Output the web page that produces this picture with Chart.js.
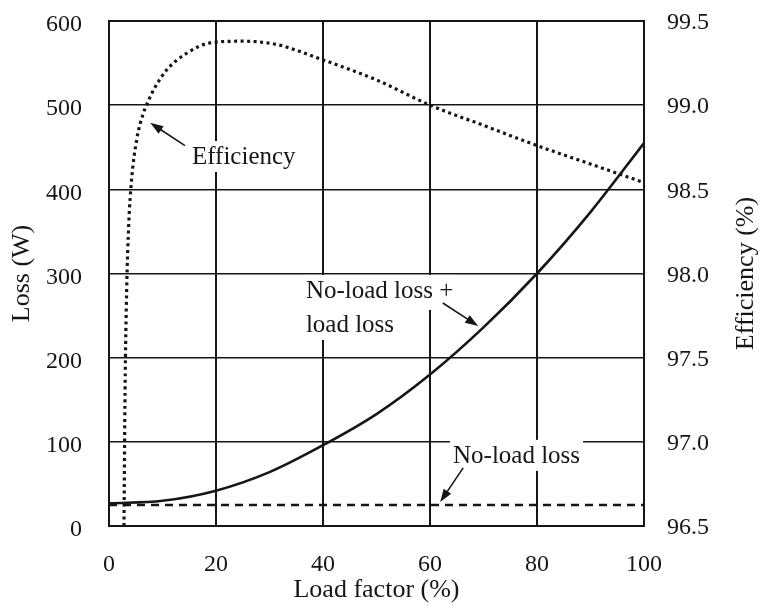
<!DOCTYPE html>
<html>
<head>
<meta charset="utf-8">
<script src="https://cdn.jsdelivr.net/npm/chart.js@4/dist/chart.umd.min.js"></script>
<style>
  html, body { margin: 0; padding: 0; background: #fff; }
  canvas { display: block; }
</style>
</head>
<body>
<canvas id="c" width="760" height="612"></canvas>
<script>
// ---- data ----
const xTicks = [0, 20, 40, 60, 80, 100];
const lossTicks = [0, 100, 200, 300, 400, 500, 600];
const effTicks = [96.5, 97.0, 97.5, 98.0, 98.5, 99.0, 99.5];

const totalLossX = [0, 10, 20, 30, 40, 50, 60, 70, 80, 90, 100];
const totalLossY = [27, 30, 42, 64, 96, 133, 180, 236, 300, 373, 455];

const noLoadX = [0, 100];
const noLoadY = [25, 25];

const effX = [2.8, 3.0, 3.3, 3.7, 4.2, 5.2, 6.4, 7.0, 8.5, 10.8, 14.6, 18.9, 25, 31.4, 39, 50, 60, 70, 80, 90, 100];
const effY = [96.5, 97.3, 97.9, 98.3, 98.55, 98.8, 98.95, 99.0, 99.1, 99.21, 99.31, 99.37, 99.38, 99.36, 99.28, 99.15, 99.0, 98.88, 98.76, 98.65, 98.54];

// annotation labels (anchored in data units of x / loss axis)
const labelTexts = [['Efficiency'], ['No-load loss +', 'load loss'], ['No-load loss']];
const labelAt = [[15.5, 430], [36.8, 271], [64.3, 75]];
const arrowFrom = [[14.2, 452], [62.4, 265], [66.2, 69]];
const arrowTo = [[7.7, 479], [69, 237.5], [61.9, 28.5]];

const pts = (xs, ys) => xs.map((x, i) => ({ x, y: ys[i] }));

const INK = '#161616';
const SERIF = '"Liberation Serif", "Times New Roman", serif';
const LINE_GAP = 34;

function arrow(ctx, x1, y1, x2, y2) {
  const ang = Math.atan2(y2 - y1, x2 - x1);
  const L = 13, W = 4.5;
  ctx.beginPath();
  ctx.moveTo(x1, y1);
  ctx.lineTo(x2 - Math.cos(ang) * L * 0.8, y2 - Math.sin(ang) * L * 0.8);
  ctx.lineWidth = 1.6;
  ctx.strokeStyle = INK;
  ctx.stroke();
  ctx.beginPath();
  ctx.moveTo(x2, y2);
  ctx.lineTo(x2 - Math.cos(ang) * L - Math.sin(ang) * W, y2 - Math.sin(ang) * L + Math.cos(ang) * W);
  ctx.lineTo(x2 - Math.cos(ang) * L + Math.sin(ang) * W, y2 - Math.sin(ang) * L - Math.cos(ang) * W);
  ctx.closePath();
  ctx.fillStyle = INK;
  ctx.fill();
}

const annotPlugin = {
  id: 'annot',
  beforeDatasetsDraw(chart) {
    const { ctx, scales } = chart;
    ctx.save();
    ctx.font = '25px ' + SERIF;
    labelTexts.forEach((lines, k) => {
      const px = scales.x.getPixelForValue(labelAt[k][0]);
      const py = scales.y.getPixelForValue(labelAt[k][1]);
      lines.forEach((t, j) => {
        const w = ctx.measureText(t).width;
        const by = py + j * LINE_GAP;
        ctx.fillStyle = '#fff';
        ctx.fillRect(px - 3, by - 23, w + 6, j < lines.length - 1 ? LINE_GAP + 1 : 31);
      });
    });
    ctx.restore();
  },
  afterDatasetsDraw(chart) {
    const { ctx, scales } = chart;
    ctx.save();
    ctx.font = '25px ' + SERIF;
    ctx.fillStyle = INK;
    ctx.textBaseline = 'alphabetic';
    ctx.textAlign = 'left';
    labelTexts.forEach((lines, k) => {
      const px = scales.x.getPixelForValue(labelAt[k][0]);
      const py = scales.y.getPixelForValue(labelAt[k][1]);
      lines.forEach((t, j) => ctx.fillText(t, px, py + j * LINE_GAP));
      arrow(ctx,
        scales.x.getPixelForValue(arrowFrom[k][0]), scales.y.getPixelForValue(arrowFrom[k][1]),
        scales.x.getPixelForValue(arrowTo[k][0]), scales.y.getPixelForValue(arrowTo[k][1]));
    });
    // frame
    const a = chart.chartArea;
    ctx.strokeStyle = INK;
    ctx.lineWidth = 2;
    ctx.strokeRect(a.left, a.top, a.right - a.left, a.bottom - a.top);
    // right axis title, reading bottom-to-top
    ctx.translate(scales.y1.right - 14, (a.top + a.bottom) / 2);
    ctx.rotate(-Math.PI / 2);
    ctx.font = '26px ' + SERIF;
    ctx.textAlign = 'center';
    ctx.textBaseline = 'middle';
    ctx.fillText('Efficiency (%)', 0, 0);
    ctx.restore();
  }
};

const fitV = w => s => { s.width = w; s.paddingTop = 0; s.paddingBottom = 0; };

new Chart(document.getElementById('c'), {
  type: 'line',
  data: {
    datasets: [
      {
        label: 'No-load loss + load loss',
        data: pts(totalLossX, totalLossY),
        yAxisID: 'y',
        borderColor: INK,
        borderWidth: 2.6,
        pointRadius: 0,
        cubicInterpolationMode: 'monotone',
        fill: false
      },
      {
        label: 'No-load loss',
        data: pts(noLoadX, noLoadY),
        yAxisID: 'y',
        borderColor: INK,
        borderWidth: 2.6,
        borderDash: [8, 6],
        pointRadius: 0,
        fill: false
      },
      {
        label: 'Efficiency',
        data: pts(effX, effY),
        yAxisID: 'y1',
        borderColor: INK,
        borderWidth: 3.2,
        borderDash: [3, 3.5],
        pointRadius: 0,
        cubicInterpolationMode: 'monotone',
        fill: false
      }
    ]
  },
  options: {
    responsive: false,
    animation: false,
    layout: { padding: { top: 21, left: 0, right: 0, bottom: 0 } },
    plugins: { legend: { display: false }, tooltip: { enabled: false } },
    scales: {
      x: {
        type: 'linear',
        min: 0, max: 100,
        afterBuildTicks: s => { s.ticks = xTicks.map(v => ({ value: v })); },
        afterFit: s => { s.height = 86; s.paddingLeft = 0; s.paddingRight = 0; },
        grid: { color: INK, lineWidth: 2, drawTicks: false },
        border: { color: INK, width: 2 },
        ticks: { color: INK, font: { family: SERIF, size: 24 }, padding: 24, maxRotation: 0, autoSkip: false },
        title: { display: true, text: 'Load factor (%)', color: INK, font: { family: SERIF, size: 26 }, padding: { top: 0, bottom: 6 } }
      },
      y: {
        type: 'linear',
        position: 'left',
        min: 0, max: 600,
        afterBuildTicks: s => { s.ticks = lossTicks.map(v => ({ value: v })); },
        afterFit: fitV(109),
        grid: { color: INK, lineWidth: 1.4, drawTicks: false },
        border: { color: INK, width: 2 },
        ticks: { color: INK, font: { family: SERIF, size: 24 }, padding: 27, labelOffset: 4, autoSkip: false },
        title: { display: true, text: 'Loss (W)', color: INK, font: { family: SERIF, size: 26 }, padding: { top: 7, bottom: 0 } }
      },
      y1: {
        type: 'linear',
        position: 'right',
        min: 96.5, max: 99.5,
        afterBuildTicks: s => { s.ticks = effTicks.map(v => ({ value: v })); },
        afterFit: fitV(116),
        grid: { display: false, drawTicks: false },
        border: { color: INK, width: 2 },
        ticks: { color: INK, font: { family: SERIF, size: 24 }, padding: 23, labelOffset: 2, autoSkip: false,
                 callback: v => Number(v).toFixed(1) },
        title: { display: false }
      }
    }
  },
  plugins: [annotPlugin]
});
</script>
</body>
</html>
